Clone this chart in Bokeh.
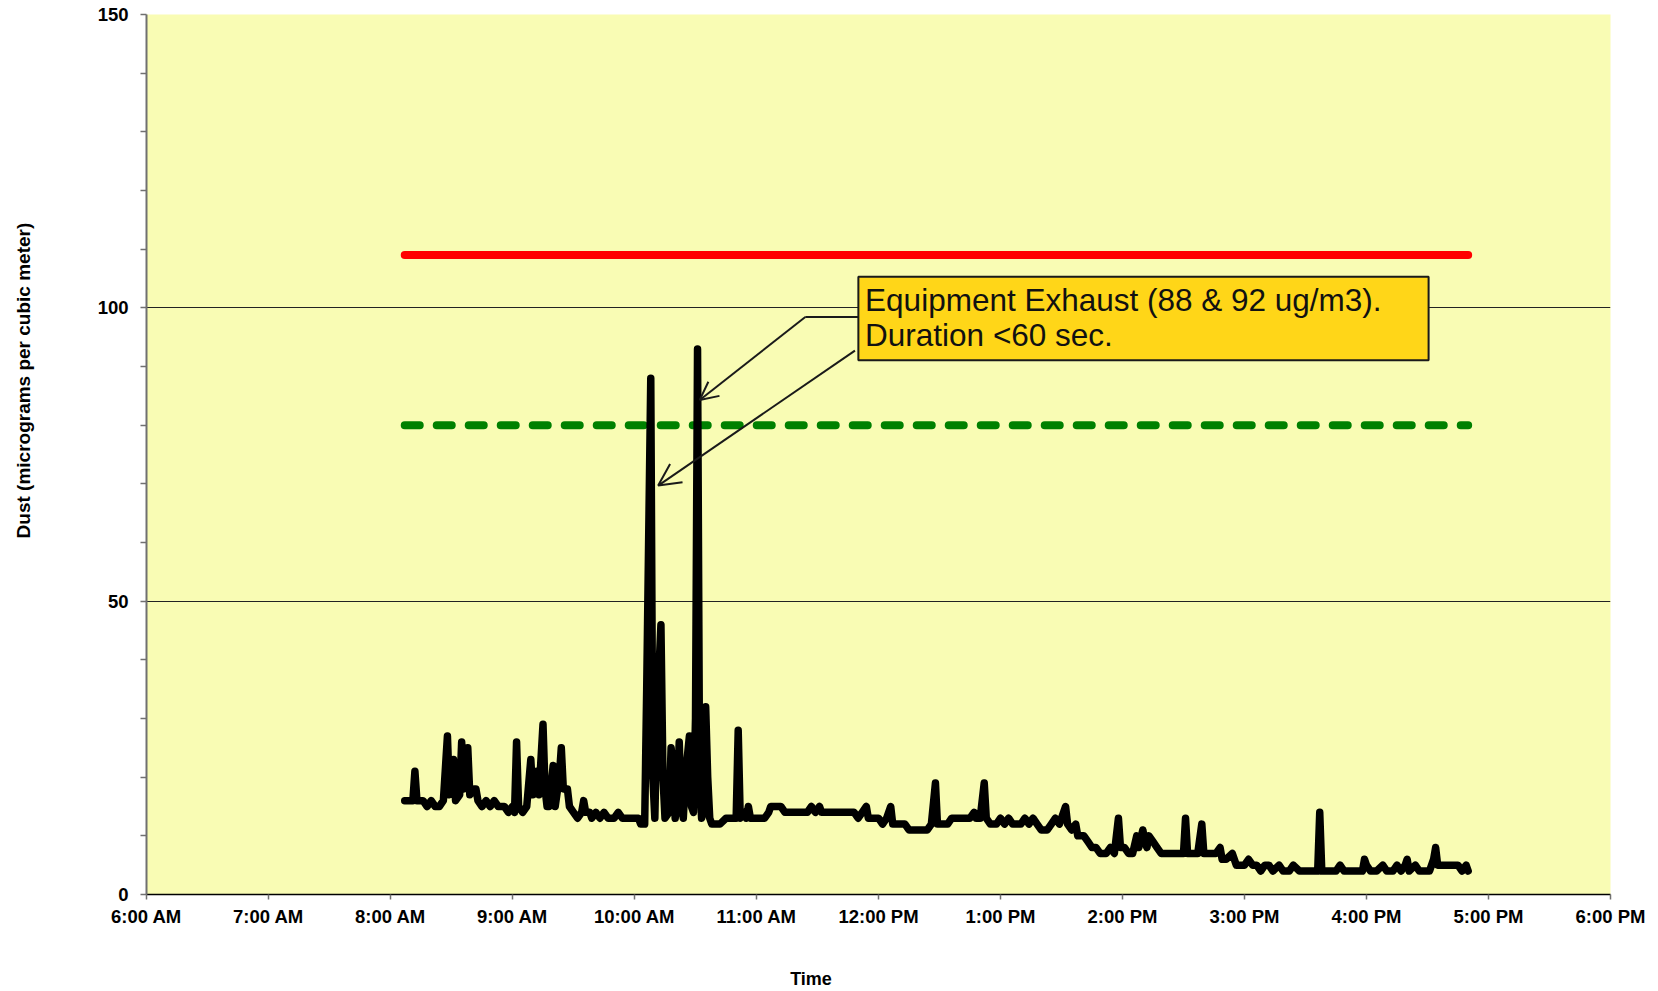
from bokeh.plotting import figure
from bokeh.models import (ColumnDataSource, FixedTicker, Label, Arrow, OpenHead,
                          BoxAnnotation, Range1d)
from bokeh.embed import file_html
from bokeh.resources import INLINE

# ---------------- data ----------------
times = [
    "8:07", "8:09", "8:11", "8:12", "8:13", "8:16", "8:18", "8:20", "8:22", "8:24",
    "8:26", "8:28", "8:29", "8:30", "8:31", "8:32", "8:34", "8:35", "8:36", "8:37",
    "8:38", "8:39", "8:41", "8:42", "8:43", "8:45", "8:47", "8:49", "8:51", "8:53",
    "8:56", "8:58", "9:00", "9:01", "9:02", "9:03", "9:05", "9:07", "9:09", "9:10",
    "9:12", "9:13", "9:15", "9:16", "9:17", "9:18", "9:20", "9:21", "9:23", "9:24",
    "9:25", "9:27", "9:28", "9:30", "9:32", "9:34", "9:35", "9:36", "9:38", "9:39",
    "9:41", "9:43", "9:45", "9:47", "9:50", "9:52", "9:54", "9:58", "10:02", "10:03",
    "10:05", "10:06", "10:08", "10:09", "10:10", "10:11", "10:13", "10:14", "10:15", "10:17",
    "10:18", "10:19", "10:20", "10:21", "10:22", "10:23", "10:24", "10:25", "10:27", "10:28",
    "10:29", "10:30", "10:31", "10:32", "10:33", "10:34", "10:35", "10:36", "10:37", "10:38",
    "10:40", "10:42", "10:45", "10:48", "10:50", "10:51", "10:52", "10:54", "10:55", "10:56",
    "10:57", "10:59", "11:02", "11:04", "11:06", "11:07", "11:10", "11:12", "11:14", "11:17",
    "11:20", "11:25", "11:27", "11:29", "11:31", "11:32", "11:36", "11:42", "11:48", "11:50",
    "11:52", "11:54", "11:55", "11:57", "12:00", "12:02", "12:04", "12:06", "12:07", "12:09",
    "12:13", "12:15", "12:18", "12:21", "12:24", "12:26", "12:28", "12:29", "12:31", "12:34",
    "12:36", "12:39", "12:42", "12:45", "12:47", "12:48", "12:50", "12:52", "12:53", "12:55",
    "12:58", "13:00", "13:02", "13:04", "13:06", "13:10", "13:12", "13:14", "13:16", "13:18",
    "13:20", "13:23", "13:25", "13:27", "13:29", "13:30", "13:32", "13:33", "13:35", "13:37",
    "13:38", "13:41", "13:43", "13:45", "13:47", "13:49", "13:52", "13:54", "13:56", "13:58",
    "13:59", "14:01", "14:03", "14:05", "14:07", "14:08", "14:10", "14:11", "14:12", "14:13",
    "14:15", "14:17", "14:19", "14:22", "14:25", "14:28", "14:30", "14:31", "14:32", "14:35",
    "14:37", "14:39", "14:40", "14:43", "14:46", "14:48", "14:49", "14:51", "14:54", "14:56",
    "15:00", "15:02", "15:04", "15:06", "15:08", "15:10", "15:12", "15:14", "15:17", "15:19",
    "15:22", "15:24", "15:27", "15:30", "15:33", "15:36", "15:37", "15:38", "15:42", "15:45",
    "15:47", "15:49", "15:52", "15:55", "15:58", "15:59", "16:00", "16:02", "16:05", "16:08",
    "16:10", "16:13", "16:15", "16:17", "16:19", "16:20", "16:21", "16:24", "16:26", "16:28",
    "16:31", "16:33", "16:34", "16:35", "16:37", "16:40", "16:43", "16:45", "16:47", "16:49",
    "16:50",
]
dust = [
    16, 16, 16, 21, 16, 16, 15, 16, 15, 15,
    16, 27, 17, 18, 23, 16, 17, 26, 18, 19,
    25, 17, 18, 18, 16, 15, 16, 15, 16, 15,
    15, 14, 15, 14, 26, 15, 14, 15, 23, 17,
    21, 17, 29, 18, 15, 15, 22, 15, 20, 25,
    18, 18, 15, 14, 13, 14, 16, 14, 14, 13,
    14, 13, 14, 13, 13, 14, 13, 13, 13, 12,
    12, 35, 88, 20, 13, 30, 46, 20, 13, 14,
    25, 22, 13, 16, 26, 15, 13, 20, 27, 15,
    14, 30, 93, 20, 13, 14, 32, 20, 13, 12,
    12, 12, 13, 13, 13, 28, 13, 14, 13, 15,
    13, 13, 13, 13, 14, 15, 15, 15, 14, 14,
    14, 14, 15, 14, 15, 14, 14, 14, 14, 13,
    14, 15, 13, 13, 13, 12, 13, 15, 12, 12,
    12, 11, 11, 11, 11, 12, 19, 12, 12, 12,
    13, 13, 13, 13, 14, 13, 13, 19, 13, 12,
    12, 13, 12, 13, 12, 12, 13, 12, 13, 12,
    11, 11, 12, 13, 12, 13, 15, 12, 11, 12,
    10, 10, 9, 8, 8, 7, 7, 8, 7, 13,
    8, 8, 7, 7, 10, 8, 11, 9, 8, 10,
    9, 8, 7, 7, 7, 7, 7, 13, 7, 7,
    7, 12, 7, 7, 7, 8, 6, 6, 7, 5,
    5, 6, 5, 5, 4, 5, 5, 4, 5, 4,
    4, 5, 4, 4, 4, 4, 14, 4, 4, 4,
    5, 4, 4, 4, 4, 6, 5, 4, 4, 5,
    4, 4, 5, 4, 5, 6, 4, 5, 4, 4,
    4, 6, 8, 5, 5, 5, 5, 5, 4, 5,
    4,
]
upper_limit = 109
action_level = 80

x_tick_hours = list(range(6, 19))
x_tick_labels = ["6:00 AM", "7:00 AM", "8:00 AM", "9:00 AM", "10:00 AM", "11:00 AM",
                 "12:00 PM", "1:00 PM", "2:00 PM", "3:00 PM", "4:00 PM", "5:00 PM", "6:00 PM"]
y_ticks = [0, 50, 100, 150]
y_minor = [10, 20, 30, 40, 60, 70, 80, 90, 110, 120, 130, 140]

note_lines = ["Equipment Exhaust (88 & 92 ug/m3).", "Duration <60 sec."]
x_title = "Time"
y_title = "Dust (micrograms per cubic meter)"


def to_hours(s):
    h, m = s.split(":")
    return int(h) + int(m) / 60.0


hours = [to_hours(t) for t in times]
src = ColumnDataSource(dict(t=hours, v=dust))

FONT = "Liberation Sans"
NBSP = "\u00a0"

p = figure(width=1658, height=991, output_backend="svg", toolbar_location=None,
           x_range=Range1d(6, 18), y_range=Range1d(0, 150),
           min_border_left=146, min_border_right=48, min_border_top=14, min_border_bottom=97)
p.background_fill_color = "#F9FCB4"
p.border_fill_color = "white"
p.outline_line_color = None

# axes
p.xaxis.ticker = FixedTicker(ticks=x_tick_hours)
p.xaxis.major_label_overrides = {h: lab for h, lab in zip(x_tick_hours, x_tick_labels)}
p.yaxis.ticker = FixedTicker(ticks=y_ticks, minor_ticks=y_minor)
for ax in (p.xaxis[0], p.yaxis[0]):
    ax.major_label_text_font = FONT
    ax.major_label_text_font_style = "bold"
    ax.major_label_text_font_size = "18.5px"
    ax.major_label_text_color = "black"
    ax.major_tick_in = 0
    ax.minor_tick_in = 0
    ax.major_tick_line_color = "#707070"
    ax.minor_tick_line_color = "#707070"
    ax.major_tick_line_width = 1.5
    ax.minor_tick_line_width = 1.5
    ax.axis_label_text_font = FONT
    ax.axis_label_text_font_style = "bold"
    ax.axis_label_text_color = "black"
p.xaxis.major_tick_out = 5
p.xaxis.minor_tick_out = 0
p.xaxis.major_label_standoff = 6
p.xaxis.axis_line_color = "black"
p.xaxis.axis_line_width = 1.5
p.yaxis.major_tick_out = 6
p.yaxis.minor_tick_out = 6
p.yaxis.major_label_standoff = 12
p.yaxis.axis_line_color = "#707070"
p.yaxis.axis_line_width = 2

# axis titles: the original sits off the frame centre, so pad with no-break spaces
p.xaxis.axis_label = x_title + NBSP * 27
p.xaxis.axis_label_text_font_size = "18px"
p.xaxis.axis_label_standoff = 39
p.yaxis.axis_label = NBSP * 28 + y_title
p.yaxis.axis_label_text_font_size = "19px"
p.yaxis.axis_label_standoff = 61

p.xgrid.visible = False
p.ygrid.ticker = FixedTicker(ticks=[50, 100, 150])
p.ygrid.grid_line_color = "#222222"
p.ygrid.grid_line_width = 1

# reference levels and data
t0, t1 = hours[0], hours[-1]
p.line([t0, t1], [upper_limit, upper_limit], line_color="#FF0000", line_width=8, line_cap="round")
p.line([t0, t1], [action_level, action_level], line_color="#008000", line_width=8,
       line_dash="15 17", line_cap="round")
p.line("t", "v", source=src, line_color="black", line_width=7.5, line_join="round", line_cap="round")

# annotation callout
BOX = dict(left=11.835, right=16.509, top=105.3, bottom=91.05)
LEAD1 = dict(box=(11.835, 98.44), corner=(11.40, 98.44), tip=(10.535, 84.3))
LEAD2 = dict(start=(11.807, 92.7), tip=(10.194, 69.7))

p.line([LEAD1["box"][0], LEAD1["corner"][0]], [LEAD1["box"][1], LEAD1["corner"][1]],
       line_color="#1a1a1a", line_width=2)
p.add_layout(Arrow(end=OpenHead(size=18, line_width=2, line_color="#1a1a1a"),
                   x_start=LEAD1["corner"][0], y_start=LEAD1["corner"][1],
                   x_end=LEAD1["tip"][0], y_end=LEAD1["tip"][1],
                   line_width=2, line_color="#1a1a1a"))
p.add_layout(Arrow(end=OpenHead(size=22, line_width=2, line_color="#1a1a1a"),
                   x_start=LEAD2["start"][0], y_start=LEAD2["start"][1],
                   x_end=LEAD2["tip"][0], y_end=LEAD2["tip"][1],
                   line_width=2, line_color="#1a1a1a"))
p.add_layout(BoxAnnotation(fill_color="#FFD618", fill_alpha=1.0, line_color="#1a1a1a",
                           line_width=2, line_alpha=1.0, **BOX))
for txt, yy in zip(note_lines, [101.3, 95.3]):
    p.add_layout(Label(x=11.89, y=yy, text=txt, text_font=FONT, text_font_size="31.5px",
                       text_baseline="alphabetic", text_align="left", text_color="#111111"))

open("out.html", "w").write(file_html(p, INLINE))
